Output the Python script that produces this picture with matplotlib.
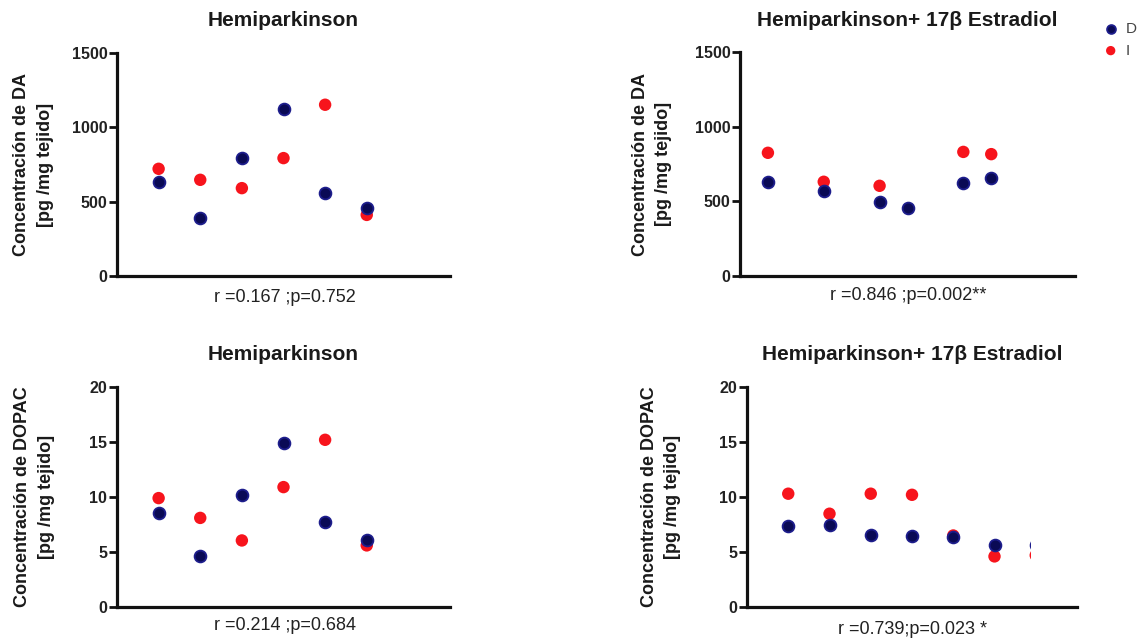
import matplotlib
matplotlib.use("Agg")
import matplotlib.pyplot as plt
from matplotlib.patches import Rectangle

plt.rcParams['font.family'] = ['Liberation Sans', 'DejaVu Sans']

# --- data ---
# DA, Hemiparkinson
da_hemi_x = [1, 2, 3, 4, 5, 6]
da_hemi_D = [629, 390, 793, 1123, 557, 456]
da_hemi_I = [721, 647, 591, 793, 1152, 411]

# DA, Hemiparkinson + 17b Estradiol
da_estr_xD = [1, 3, 5, 6, 8, 9]
da_estr_D = [631, 568, 497, 457, 620, 653]
da_estr_xI = [1, 3, 5, 8, 9]
da_estr_I = [825, 631, 604, 831, 816]

# DOPAC, Hemiparkinson
dopac_hemi_x = [1, 2, 3, 4, 5, 6]
dopac_hemi_D = [8.55, 4.6, 10.15, 14.9, 7.7, 6.1]
dopac_hemi_I = [9.9, 8.1, 6.05, 10.9, 15.2, 5.6]

# DOPAC, Hemiparkinson + 17b Estradiol
dopac_estr_x = [1, 2, 3, 4, 5, 6, 7]
dopac_estr_D = [7.33, 7.42, 6.58, 6.42, 6.36, 5.6, 5.6]
dopac_estr_I = [10.3, 8.48, 10.3, 10.2, 6.5, 4.6, 4.7]

titles = ["Hemiparkinson", "Hemiparkinson+ 17\u03b2 Estradiol"]
ylab_da = "Concentraci\u00f3n de DA\n[pg /mg tejido]"
ylab_dopac = "Concentraci\u00f3n de DOPAC\n[pg /mg tejido]"
stats = ["r =0.167 ;p=0.752", "r =0.846 ;p=0.002**",
         "r =0.214 ;p=0.684", "r =0.739;p=0.023 *"]

W, H = 1147, 638
BLUE = '#0a0a55'
BLUE_EDGE = '#1d1d8c'
RED = '#f7141c'

fig = plt.figure(figsize=(W / 100, H / 100), dpi=100)


def px_axes(l, r, t, b):
    return fig.add_axes([l / W, 1 - b / H, (r - l) / W, (b - t) / H])


def style(ax, ymax, yticks, xmax):
    ax.set_xlim(0, xmax)
    ax.set_ylim(0, ymax)
    ax.set_yticks(yticks)
    ax.set_xticks([])
    for s in ['top', 'right']:
        ax.spines[s].set_visible(False)
    for s in ['left', 'bottom']:
        ax.spines[s].set_linewidth(2.3)
        ax.spines[s].set_color('#111111')
    ax.tick_params(axis='y', length=6, width=2, color='#111111', pad=1,
                   labelsize=11.5, labelcolor='#222222')
    for lbl in ax.get_yticklabels():
        lbl.set_fontweight('bold')


def dots(ax, xd, yd, xi, yi):
    ax.scatter(xi, yi, s=80, color=RED, edgecolors='none', zorder=3,
               clip_on=False, label='I')
    ax.scatter(xd, yd, s=72, color=BLUE, edgecolors=BLUE_EDGE, linewidths=1.3,
               zorder=4, clip_on=False, label='D')


boxes = [(117, 450, 53, 276), (740, 1075, 52, 276),
         (117, 450, 387, 607), (747, 1077, 387, 607)]
ylab_x = [33.5, 652, 34.5, 661]
stat_y = [298, 295, 625, 630]

axes = [px_axes(*b) for b in boxes]

style(axes[0], 1500, [0, 500, 1000, 1500], 8)
dots(axes[0], da_hemi_x, da_hemi_D, da_hemi_x, da_hemi_I)
style(axes[1], 1500, [0, 500, 1000, 1500], 12)
dots(axes[1], da_estr_xD, da_estr_D, da_estr_xI, da_estr_I)
style(axes[2], 20, [0, 5, 10, 15, 20], 8)
dots(axes[2], dopac_hemi_x, dopac_hemi_D, dopac_hemi_x, dopac_hemi_I)
style(axes[3], 20, [0, 5, 10, 15, 20], 8)
dots(axes[3], dopac_estr_x, dopac_estr_D, dopac_estr_x, dopac_estr_I)

for i, ax in enumerate(axes):
    l, r, t, b = boxes[i]
    cx = (l + r) / 2
    fig.text(cx / W, 1 - (t - 32) / H, titles[i % 2], ha='center', va='center',
             fontsize=15, fontweight='bold', color='#1a1a1a')
    fig.text(ylab_x[i] / W, 1 - ((t + b) / 2) / H,
             ylab_da if i < 2 else ylab_dopac, rotation=90, ha='center',
             va='center', multialignment='center', fontsize=13,
             fontweight='bold', linespacing=1.5, color='#1a1a1a')
    fig.text((cx + 1) / W, 1 - stat_y[i] / H, stats[i], ha='center',
             va='center', fontsize=13, color='#222222')

# white patch hiding the last DOPAC pair, as in the original image
fig.add_artist(Rectangle((1031 / W, 1 - 578 / H), 22 / W, 50 / H,
                         transform=fig.transFigure, facecolor='white',
                         edgecolor='none', zorder=10))

handles, labels = axes[0].get_legend_handles_labels()
fig.legend(handles[::-1], labels[::-1], loc='upper left',
           bbox_to_anchor=(1100 / W, 1 - 22 / H), frameon=False,
           markerscale=0.75, handletextpad=0.3, handlelength=1.4,
           labelspacing=0.5, fontsize=11, labelcolor='#444444',
           borderaxespad=0, borderpad=0)

fig.savefig("out.png", dpi=100)
